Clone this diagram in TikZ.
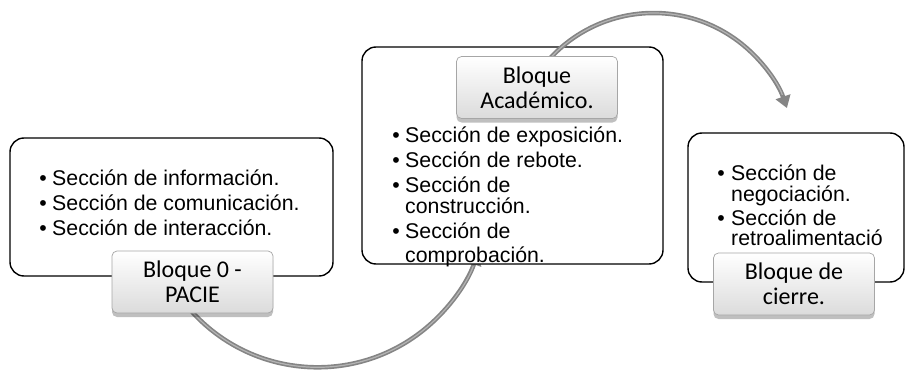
\documentclass[tikz,border=0pt]{standalone}
\usepackage{fontspec}
\setmainfont{Liberation Sans}
\newfontfamily\labelfont{Carlito}
\usetikzlibrary{shadows,arrows.meta}
\definecolor{arcgray}{HTML}{858585}
\definecolor{archi}{HTML}{B4B4B4}
\definecolor{lblborder}{HTML}{A6A6A6}
\begin{document}
\begin{tikzpicture}[x=1pt,y=-1pt]
\tikzset{
  bigbox/.style={draw=black, line width=1.4pt, rounded corners=14pt, fill=white, inner sep=0pt},
  lbl/.style={draw=lblborder, line width=0.7pt, rounded corners=5pt, top color=white, bottom color=gray!28,
     inner sep=0pt, minimum width=161pt, minimum height=62pt, align=center,
     font=\labelfont\fontsize{24}{25}\selectfont,
     drop shadow={shadow xshift=0pt, shadow yshift=-4pt, opacity=0.25, fill=black}},
  txt/.style={anchor=base west, inner sep=0pt, font=\fontsize{21.3}{22}\selectfont},
  bul/.style={anchor=base, inner sep=0pt, font=\fontsize{21.3}{22}\selectfont},
  flow/.style={draw=arcgray, line width=4.5pt, -{Triangle[length=12pt,width=15pt]},
     postaction={draw=archi, line width=1.2pt, -, shorten >=14pt}},
}
\useasboundingbox (0,0) rectangle (906,372);

% box 1
\node[bigbox, minimum width=323pt, minimum height=138pt] (b1) at (171.5,207) {};
\node[bul] (b1u1) at (43,185) {•};
\node[txt] (b1t1) at (52,185) {Sección de información.};
\node[bul] (b1u2) at (43,210) {•};
\node[txt] (b1t2) at (52,210) {Sección de comunicación.};
\node[bul] (b1u3) at (43,235) {•};
\node[txt] (b1t3) at (52,235) {Sección de interacción.};

% arc 1 (behind box 2)
\coordinate (c1) at (317.5,197.8);
\draw[flow] ([shift={(140:169.5)}]c1) arc[start angle=140, end angle=19, radius=169.5];

% box 2
\node[bigbox, minimum width=301pt, minimum height=217pt] (b2) at (512.5,155.5) {};
\node[bul] (b2u1) at (396,142) {•};
\node[txt] (b2t1) at (405,142) {Sección de exposición.};
\node[bul] (b2u2) at (396,167) {•};
\node[txt] (b2t2) at (405,167) {Sección de rebote.};
\node[bul] (b2u3) at (396,192) {•};
\node[txt] (b2t3) at (405,192) {Sección de};
\node[txt] (b2t3b) at (405,213) {construcción.};
\node[bul] (b2u4) at (396,238) {•};
\node[txt] (b2t4) at (405,238) {Sección de};
\node[txt] (b2t4b) at (405,262) {comprobación.};

% arc 2
\coordinate (c2) at (653.6,154);
\draw[flow] ([shift={(-140:141)}]c2) arc[start angle=-140, end angle=-19, radius=141];

% box 3
\node[bigbox, minimum width=216pt, minimum height=149pt] (b3) at (796,207.5) {};
\node[bul] (b3u1) at (721,180.5) {•};
\node[txt] (b3t1) at (731,180.5) {Sección de};
\node[txt] (b3t1b) at (731,201) {negociación.};
\node[bul] (b3u2) at (721,225.5) {•};
\node[txt] (b3t2) at (731,225.5) {Sección de};
\node[txt] (b3t2b) at (731,245.5) {retroalimentació};

% labels
\node[lbl] (l0) at (192.5,282) {Bloque 0 -\\PACIE};
\node[lbl] (lA) at (537,87.5) {Bloque\\Académico.};
\node[lbl] (lC) at (794,284) {Bloque de\\cierre.};
\end{tikzpicture}
\end{document}
